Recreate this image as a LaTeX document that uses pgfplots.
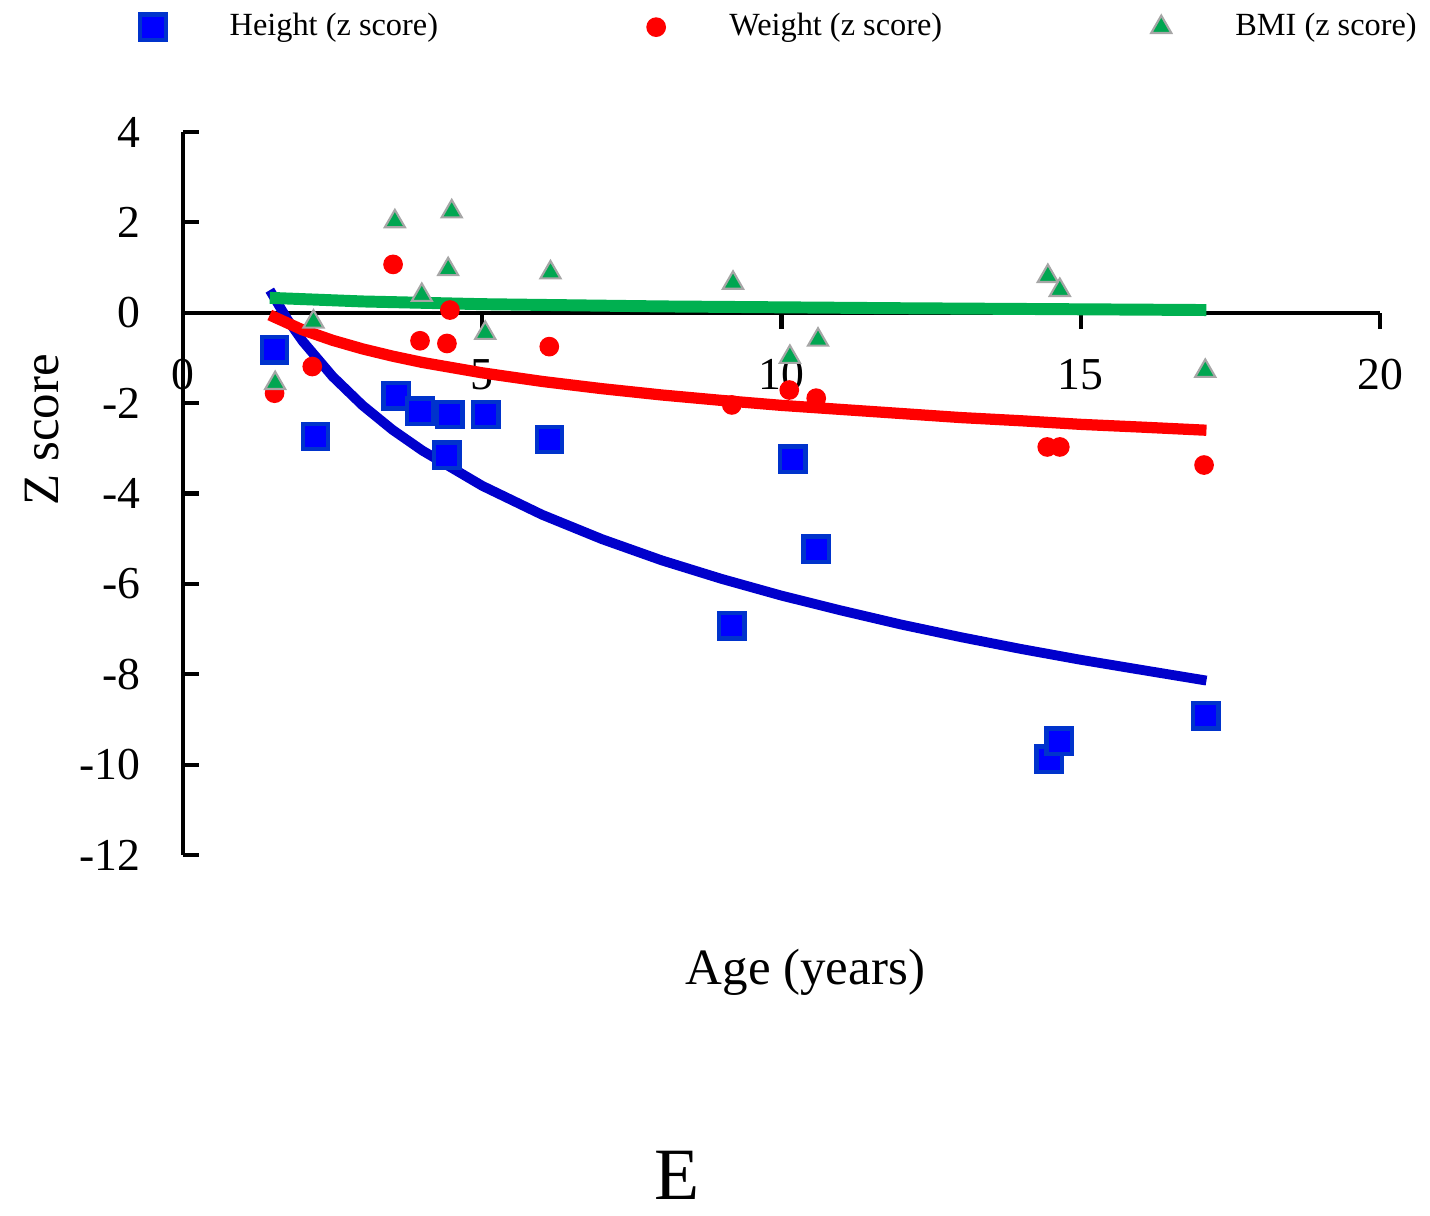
\documentclass[border=0pt]{standalone}
\usepackage{pgfplots}
\pgfplotsset{compat=1.18}
\usepackage{fontspec}
\setmainfont{Liberation Serif}
\definecolor{sqblue}{RGB}{0,0,255}
\definecolor{sqedge}{RGB}{0,51,204}
\definecolor{lblue}{RGB}{0,0,204}
\definecolor{tgreen}{RGB}{0,166,81}
\definecolor{lgreen}{RGB}{0,176,80}
\begin{document}
\begin{tikzpicture}
\begin{axis}[
 scale only axis, width=11.97cm, height=7.23cm,
 xmin=0, xmax=20, ymin=-12, ymax=4,
 axis x line*=middle, axis y line*=left,
 xtick={0,5,10,15,20}, ytick={-12,-10,-8,-6,-4,-2,0,2,4},
 hide obscured x ticks=false, hide obscured y ticks=false,
 xtick align=outside, ytick align=inside, major tick length=0.16cm,
 axis line style={line width=1.2pt, black}, tick style={line width=1.2pt, black},
 /pgf/number format/assume math mode=true,
 tick label style={font=\fontsize{13}{15}\selectfont},
 xticklabel style={yshift=-0.18cm},
 yticklabel style={xshift=-0.3cm},
 xlabel={Age (years)}, ylabel={Z score},
 xlabel style={at={(axis description cs:0.52,-0.162)}, anchor=center, font=\fontsize{14.5}{17}\selectfont},
 ylabel style={at={(axis description cs:-0.118,0.588)}, anchor=center, font=\fontsize{14.5}{17}\selectfont},
 legend columns=3, legend cell align=left,
 legend style={draw=none, fill=none, at={(-0.045,1.145)}, anchor=west, font=\fontsize{9.2}{11}\selectfont,
   /tikz/every odd column/.append style={column sep=0.57cm},
   /tikz/every even column/.append style={column sep=2.02cm}},
 clip=false,
]
\addplot[only marks, mark=square*, mark size=3.6pt, mark options={fill=sqblue, draw=sqedge, line width=1.2pt}] coordinates {
(1.53,-0.82) (2.21,-2.74) (3.56,-1.84) (3.96,-2.18) (4.41,-3.15) (4.46,-2.25) (5.06,-2.25)
(6.12,-2.80) (9.17,-6.93) (10.19,-3.24) (10.58,-5.23) (14.47,-9.88) (14.64,-9.48) (17.09,-8.92)};
\addlegendentry{Height (z score)}
\addplot[only marks, mark=*, mark size=2.6pt, mark options={fill=red, draw=red}] coordinates {
(1.53,-1.78) (2.16,-1.19) (3.51,1.07) (3.96,-0.62) (4.41,-0.68) (4.46,0.06) (6.12,-0.75)
(9.17,-2.04) (10.13,-1.71) (10.58,-1.89) (14.44,-2.97) (14.65,-2.97) (17.06,-3.37)};
\addlegendentry{Weight (z score)}
\addplot[only marks, mark=triangle*, mark size=3.3pt, mark options={fill=tgreen, draw=gray!70, line width=0.6pt}] coordinates {
(1.54,-1.56) (2.18,-0.20) (3.54,2.02) (3.99,0.39) (4.43,0.96) (4.49,2.24) (5.05,-0.45)
(6.14,0.89) (9.19,0.66) (10.14,-0.98) (10.61,-0.60) (14.45,0.81) (14.65,0.50) (17.08,-1.29)};
\addlegendentry{BMI (z score)}
\addplot[lblue, line width=2.8pt, forget plot] coordinates {
(1.45,0.50) (1.75,-0.16) (2,-0.63) (2.5,-1.41) (3,-2.05) (3.5,-2.59) (4,-3.05) (5,-3.83)
(6,-4.47) (7,-5.01) (8,-5.48) (9,-5.89) (10,-6.26) (11,-6.59) (12,-6.90) (13,-7.18)
(14,-7.44) (15,-7.68) (16,-7.90) (17.1,-8.14)};
\addplot[red, line width=3.2pt, forget plot] coordinates {
(1.45,-0.05) (2,-0.38) (2.5,-0.61) (3,-0.80) (3.5,-0.96) (4,-1.10) (5,-1.33) (6,-1.52)
(7,-1.68) (8,-1.82) (9,-1.94) (10,-2.05) (11,-2.14) (12,-2.23) (13,-2.32) (14,-2.39)
(15,-2.47) (16,-2.53) (17.1,-2.60)};
\addplot[lgreen, line width=3.4pt, forget plot] coordinates {
(1.45,0.33) (3,0.25) (5,0.19) (8,0.14) (12,0.10) (17.1,0.06)};
\node[font=\fontsize{21}{25}\selectfont] at (axis description cs:0.413,-0.443) {E};
\end{axis}
\pgfresetboundingbox
\path[use as bounding box] (-1.83,-3.60) rectangle (12.47,8.55);
\end{tikzpicture}
\end{document}
